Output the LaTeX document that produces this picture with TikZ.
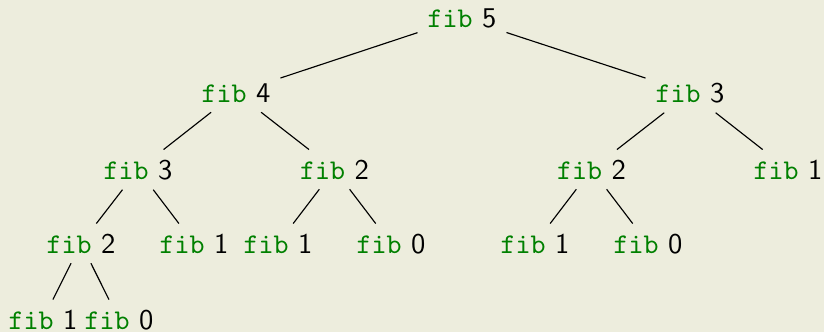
\documentclass[tikz,border=0pt]{standalone}
\usepackage{fontspec}
\definecolor{bgcol}{RGB}{237,237,221}
\definecolor{fibgreen}{RGB}{0,128,0}
\newcommand{\fibw}[1]{\textcolor{fibgreen}{\texttt{fib}} #1}
\begin{document}
\begin{tikzpicture}[x=0.35pt,y=-0.35pt,
  fn/.style={anchor=base,font=\sffamily,inner sep=3.33pt},
  link/.style={draw=black,line width=0.4pt}]
\fill[bgcol] (0,0) rectangle (824,332);
\useasboundingbox (0,0) rectangle (824,332);
\node[fn] (r) at (462,27) {\fibw{5}};
\node[fn] (a) at (236,102) {\fibw{4}};
\node[fn] (b) at (690,102) {\fibw{3}};
\node[fn] (aa) at (138,179) {\fibw{3}};
\node[fn] (ab) at (334.5,179) {\fibw{2}};
\node[fn] (ba) at (591.5,179) {\fibw{2}};
\node[fn] (bb) at (788,179) {\fibw{1}};
\node[fn] (aaa) at (81,253) {\fibw{2}};
\node[fn] (aab) at (194,253) {\fibw{1}};
\node[fn] (aba) at (278,253) {\fibw{1}};
\node[fn] (abb) at (391,253) {\fibw{0}};
\node[fn] (baa) at (535,253) {\fibw{1}};
\node[fn] (bab) at (648,253) {\fibw{0}};
\node[fn] (aaaa) at (43,329) {\fibw{1}};
\node[fn] (aaab) at (119,329) {\fibw{0}};
\draw[link] (r) -- (a);
\draw[link] (r) -- (b);
\draw[link] (a) -- (aa);
\draw[link] (a) -- (ab);
\draw[link] (b) -- (ba);
\draw[link] (b) -- (bb);
\draw[link] (aa) -- (aaa);
\draw[link] (aa) -- (aab);
\draw[link] (ab) -- (aba);
\draw[link] (ab) -- (abb);
\draw[link] (ba) -- (baa);
\draw[link] (ba) -- (bab);
\draw[link] (aaa) -- (aaaa);
\draw[link] (aaa) -- (aaab);
\end{tikzpicture}
\end{document}
